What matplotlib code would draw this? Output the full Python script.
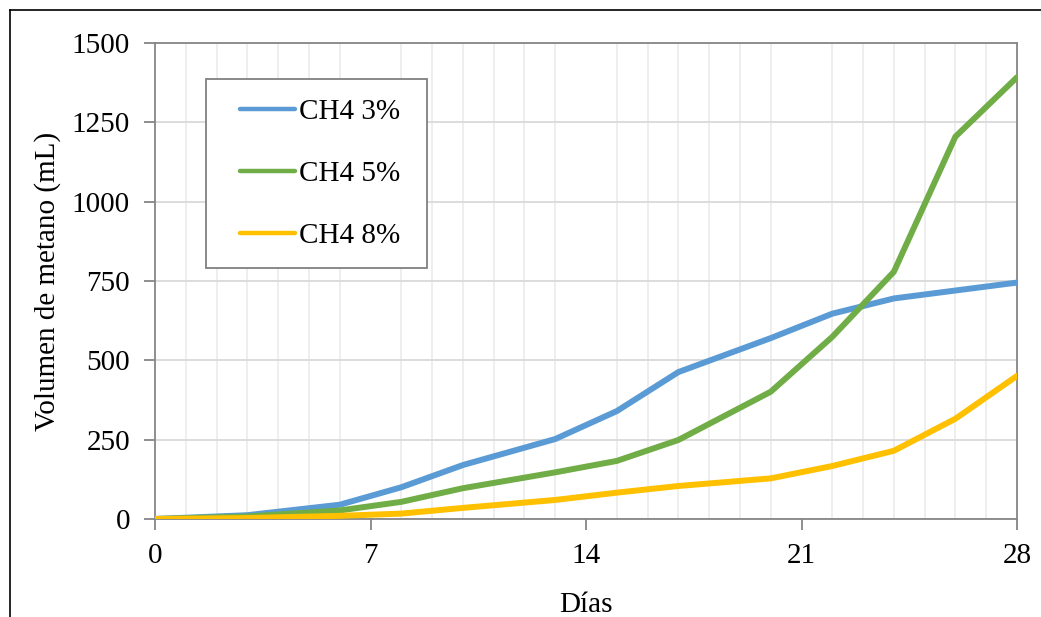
import numpy as np
import matplotlib
matplotlib.use("Agg")
import matplotlib.pyplot as plt
from matplotlib.lines import Line2D
from matplotlib.patches import Rectangle

# data
dias = [0, 3, 6, 8, 10, 13, 15, 17, 20, 22, 24, 26, 28]
ch4_3 = [0, 12, 45, 100, 170, 252, 340, 463, 570, 647, 695, 720, 745]
ch4_5 = [0, 8, 27, 54, 97, 147, 183, 249, 401, 574, 779, 1205, 1392]
ch4_8 = [0, 3, 10, 17, 35, 60, 83, 104, 128, 167, 215, 316, 451]
labels = ["CH4 3%", "CH4 5%", "CH4 8%"]
colors = ["#5B9BD5", "#70AD47", "#FFC000"]

plt.rcParams['font.family'] = ['Liberation Serif', 'DejaVu Serif']
fs = 21

W, H = 1041, 617
fig = plt.figure(figsize=(W / 100, H / 100), dpi=100)
ax = fig.add_axes([155 / W, 1 - 519 / H, (1017 - 155) / W, (519 - 43) / H])

lines = []
for ys, lab, c in zip([ch4_3, ch4_5, ch4_8], labels, colors):
    ln, = ax.plot(dias, ys, color=c, lw=4.3, label=lab, solid_capstyle='round', zorder=3)
    lines.append(ln)

ax.set_xlim(0, 28)
ax.set_ylim(0, 1500)
ax.set_xticks([0, 7, 14, 21, 28])
ax.set_xticks(np.arange(0, 29, 1), minor=True)
ax.set_yticks(np.arange(0, 1501, 250))
ax.grid(axis='y', which='major', color='#D9D9D9', lw=1.3, zorder=0)
ax.grid(axis='x', which='minor', color='#EDEDED', lw=1.3, zorder=0)
ax.tick_params(axis='both', which='major', direction='out', length=8, width=1.3,
               color='#868686', labelsize=fs)
ax.tick_params(axis='x', which='major', pad=9)
ax.tick_params(axis='y', which='major', pad=10)
ax.tick_params(axis='x', which='minor', length=0)
for s in ax.spines.values():
    s.set_color('#868686')
    s.set_linewidth(1.3)

ax.set_xlabel("Días", fontsize=fs, labelpad=17)
ax.set_ylabel("Volumen de metano (mL)", fontsize=fs, labelpad=8)

# legend box drawn by hand so the padding can differ per side
fig.add_artist(Rectangle((206 / W, 1 - 268 / H), (427 - 206) / W, (268 - 79) / H,
                         transform=fig.transFigure, facecolor='white',
                         edgecolor='#808080', lw=1.3, zorder=4))
leg = fig.legend(handles=lines, labels=labels, loc='upper left',
                 bbox_to_anchor=(240 / W, 1 - 99 / H), fontsize=fs, frameon=False,
                 handlelength=1.88, handletextpad=0.14, labelspacing=1.22,
                 borderpad=0, borderaxespad=0)
leg.set_zorder(5)
for h in leg.get_lines():
    h.set_linewidth(3.2)

# outer frame (only left and top visible in the crop)
fig.add_artist(Line2D([9.5 / W, 9.5 / W], [0, 1 - 9.5 / H], color='black', lw=1.2,
                      transform=fig.transFigure))
fig.add_artist(Line2D([9.5 / W, 1], [1 - 9.5 / H, 1 - 9.5 / H], color='black', lw=1.2,
                      transform=fig.transFigure))

fig.savefig("out.png", dpi=100)
